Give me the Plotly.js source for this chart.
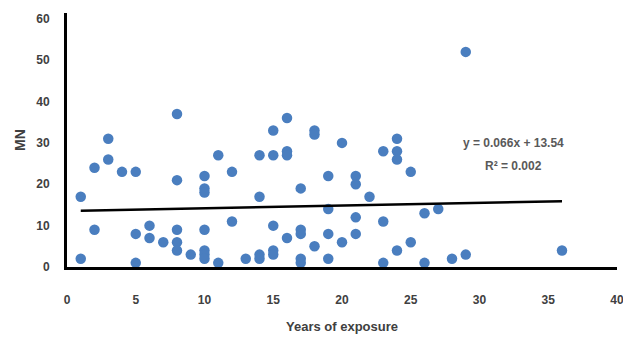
<!DOCTYPE html>
<html>
<head>
<meta charset="utf-8">
<script src="https://cdn.plot.ly/plotly-3.0.1.min.js"></script>
<style>html,body{margin:0;padding:0;background:#fff;}#chart{width:623px;height:338px;}</style>
</head>
<body>
<div id="chart"></div>
<script>
var years = [1,1,2,2,3,3,4,5,5,5,6,6,7,8,8,8,8,8,9,10,10,10,10,10,10,10,11,11,12,12,13,14,14,14,14,15,15,15,15,15,16,16,16,16,17,17,17,17,17,18,18,18,19,19,19,19,20,20,21,21,21,21,22,23,23,23,24,24,24,24,25,25,26,26,27,28,29,29,36];
var mn    = [2,17,24,9,31,26,23,23,8,1,10,7,6,37,21,9,6,4,3,22,19,18,9,4,3,2,27,1,23,11,2,27,17,3,2,33,27,10,4,3,36,28,27,7,19,9,8,2,1,33,32,5,22,14,8,2,30,6,22,20,12,8,17,28,11,1,31,28,26,4,23,6,13,1,14,2,52,3,4];
var slope = 0.066;
var intercept = 13.54;
var eqText = 'y = 0.066x + 13.54';
var r2Text = 'R² = 0.002';

var xMin = Math.min.apply(null, years);
var xMax = Math.max.apply(null, years);
var trendX = [xMin, xMax];
var trendY = trendX.map(function(v){ return slope * v + intercept; });

var font = 'Liberation Sans, Arial, sans-serif';

var data = [
  {x: years, y: mn, type: 'scatter', mode: 'markers',
   marker: {color: '#4a7ebf', size: 10.5}, hoverinfo: 'x+y', showlegend: false},
  {x: trendX, y: trendY, type: 'scatter', mode: 'lines',
   line: {color: '#000000', width: 2.5}, showlegend: false}
];

var layout = {
  width: 623, height: 338,
  margin: {l: 67, r: 6, t: 13, b: 71},
  paper_bgcolor: '#ffffff', plot_bgcolor: '#ffffff',
  font: {family: font, size: 12, color: '#404040'},
  xaxis: {
    range: [0, 40], dtick: 5, tick0: 0, showgrid: false, zeroline: false,
    showline: true, linecolor: '#000000', linewidth: 3,
    ticks: '', ticklabelstandoff: 20, ticklabeloverflow: 'allow',
    tickfont: {family: font, size: 12, color: '#404040', weight: 'bold'},
    title: {text: 'Years of exposure', standoff: 16,
            font: {family: font, size: 13, color: '#404040', weight: 'bold'}}
  },
  yaxis: {
    range: [0, 61.4], dtick: 10, tick0: 0, showgrid: false, zeroline: false,
    showline: true, linecolor: '#000000', linewidth: 3,
    ticks: '', ticklabelstandoff: 12, ticklabeloverflow: 'allow',
    tickfont: {family: font, size: 12, color: '#404040', weight: 'bold'},
    title: {text: 'MN', standoff: 8,
            font: {family: font, size: 14, color: '#404040', weight: 'bold'}}
  },
  annotations: [
    {x: 32.5, y: 30, xref: 'x', yref: 'y', text: eqText, showarrow: false,
     font: {family: font, size: 12, color: '#595959', weight: 'bold'}},
    {x: 32.5, y: 24.4, xref: 'x', yref: 'y', text: r2Text, showarrow: false,
     font: {family: font, size: 12, color: '#595959', weight: 'bold'}}
  ]
};

Plotly.newPlot('chart', data, layout, {displayModeBar: false, staticPlot: true});
</script>
</body>
</html>
